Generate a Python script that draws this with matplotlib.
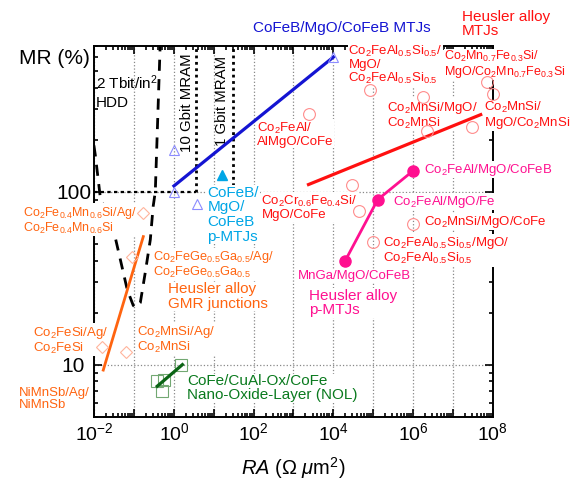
import numpy as np
import matplotlib
matplotlib.use('Agg')
import matplotlib.pyplot as plt
from matplotlib.ticker import LogLocator, NullFormatter, FuncFormatter

plt.rcParams['font.family'] = ['Liberation Sans', 'DejaVu Sans']
plt.rcParams['mathtext.fontset'] = 'custom'
plt.rcParams['mathtext.rm'] = 'Liberation Sans'
plt.rcParams['mathtext.it'] = 'Liberation Sans:italic'
plt.rcParams['mathtext.bf'] = 'Liberation Sans:bold'

#%%---- data (RA in Ohm um^2, MR in %) ----------------------------------------
hdd_ra = [0.0098, 0.0106, 0.0141, 0.0337, 0.0673, 0.095, 0.107, 0.143, 0.19, 0.255, 0.30, 0.34, 0.45]
hdd_mr = [185, 163, 93.6, 54.2, 27.1, 22.0, 21.4, 22.8, 34, 52.8, 81.9, 100, 700]

mram10_ra = 3.6
mram1_ra = 30.

cofeb_line_ra = [1., 1e4]
cofeb_line_mr = [108, 600]
cofeb_ra = [1., 1., 3.8, 1e4]
cofeb_mr = [175, 100, 85, 600]

pmtj_ra = [16.4]
pmtj_mr = [125]

heusler_line_ra = [2380, 5e7]
heusler_line_mr = [110, 279]
heusler_ra = [2400, 8.1e4, 1.74e6, 7e7, 1e8, 2.2e6, 3.1e7, 3e4, 4.3e4, 1e5, 9.8e5]
heusler_mr = [282, 389, 354, 432, 368, 225, 238, 110, 77, 51, 65]

hpmtj_ra = [2e4, 1.3e5, 1e6]
hpmtj_mr = [40, 90, 132]

gmr_line_ra = [0.0168, 0.17]
gmr_line_mr = [9.3, 55]
gmr_ra = [0.17, 0.09, 0.016, 0.063]
gmr_mr = [75.6, 42, 12.6, 11.9]

nol_line_ra = [0.38, 1.63]
nol_line_mr = [7.5, 10]
nol_ra = [1.54, 0.38, 0.57, 0.51]
nol_mr = [10, 8.0, 8.2, 7.0]

#%%---- colours ---------------------------------------------------------------
blue = '#1414d2'
cyan = '#00a6e6'
red = '#ff1010'
pink = '#ff1090'
orange = '#ff6410'
green = '#0a7a1e'

fig = plt.figure(figsize=(5.7, 4.82), dpi=100)
ax = fig.add_axes([0.1654, 0.1355, 0.699, 0.770])
ax.set_xscale('log')
ax.set_yscale('log')
ax.set_xlim(1e-2, 1e8)
ax.set_ylim(5, 700)

# grid
ax.grid(True, which='major', ls=':', color='#888888', lw=0.9)

# HDD and MRAM limits
ax.plot(hdd_ra, hdd_mr, color='k', lw=2, ls=(0, (4, 3)))
ax.plot([mram10_ra, mram10_ra], [100, 700], color='k', lw=2, ls=(0, (1, 1.3)))
ax.plot([mram1_ra, mram1_ra], [100, 700], color='k', lw=2, ls=(0, (1, 1.3)))
ax.plot([1e-2, mram10_ra], [100, 100], color='k', lw=1.6, ls=(0, (1.5, 1.5)))

# CoFeB MTJs
ax.plot(cofeb_line_ra, cofeb_line_mr, color=blue, lw=2.3, zorder=4)
ax.plot(cofeb_ra, cofeb_mr, '^', ms=7, mfc='none', mec='#8c8cff', mew=0.8, zorder=4)
ax.plot(pmtj_ra, pmtj_mr, '^', ms=7.5, color=cyan, zorder=4)

# Heusler MTJs
ax.plot(heusler_line_ra, heusler_line_mr, color=red, lw=2.3, zorder=4)
ax.plot(heusler_ra, heusler_mr, 'o', ms=8.5, mfc='none', mec='#ff8c8c', mew=0.8, zorder=4, clip_on=False)
ax.plot(hpmtj_ra, hpmtj_mr, 'o-', ms=8, color=pink, lw=2, zorder=4)

# GMR
ax.plot(gmr_line_ra, gmr_line_mr, color=orange, lw=2, zorder=4)
ax.plot(gmr_ra, gmr_mr, 'D', ms=6, mfc='none', mec='#ffb49c', mew=0.8, zorder=4)

# NOL
ax.plot(nol_ra, nol_mr, 's', ms=9, mfc='none', mec='#72a872', mew=0.8, zorder=4)
ax.plot(nol_line_ra, nol_line_mr, color='#0a6414', lw=2.3, zorder=4)

#%%---- labels ----------------------------------------------------------------
fs = 9.5
box = dict(fc='white', ec='none', pad=0.4)
kw = dict(ha='left', va='top', clip_on=False, linespacing=1.0, bbox=box)
ax.text(98, 887, 'CoFeB/MgO/CoFeB MTJs', color=blue, fontsize=11, ha='left', va='center', clip_on=False)
ax.text(1.66e7, 935, 'Heusler alloy\nMTJs', color=red, fontsize=11, ha='left', va='center',
        clip_on=False, linespacing=1.0)
ax.text(0.0112, 480, '2 Tbit/in$^2$\nHDD', color='k', fontsize=11, ha='left', va='top', linespacing=1.3)
ax.text(2.17, 327, '10 Gbit MRAM', color='k', fontsize=10.8, rotation=90, ha='center', va='center')
ax.text(16.4, 336, '1 Gbit MRAM', color='k', fontsize=10.8, rotation=90, ha='center', va='center')
ax.text(6.9, 108, 'CoFeB/\nMgO/\nCoFeB\np-MTJs', color=cyan, fontsize=11, ha='left', va='top',
        linespacing=1.05, bbox=box)

ax.text(124, 258, 'Co$_2$FeAl/\nAlMgO/CoFe', color=red, fontsize=fs, **kw)
ax.text(2.4e4, 715, 'Co$_2$FeAl$_{0.5}$Si$_{0.5}$/\nMgO/\nCo$_2$FeAl$_{0.5}$Si$_{0.5}$', color=red, fontsize=fs, **kw)
ax.text(6.0e6, 670, 'Co$_2$Mn$_{0.7}$Fe$_{0.3}$Si/\nMgO/Co$_2$Mn$_{0.7}$Fe$_{0.3}$Si', color=red, fontsize=9, **kw)
ax.text(2.2e5, 340, 'Co$_2$MnSi/MgO/\nCo$_2$MnSi', color=red, fontsize=fs, **kw)
ax.text(5.9e7, 340, 'Co$_2$MnSi/\nMgO/Co$_2$MnSi', color=red, fontsize=fs, **kw)
ax.text(157, 97, 'Co$_2$Cr$_{0.6}$Fe$_{0.4}$Si/\nMgO/CoFe', color=red, fontsize=fs, **kw)
ax.text(1.86e6, 134, 'Co$_2$FeAl/MgO/CoFeB', color=pink, fontsize=fs, ha='left', va='center', bbox=box)
ax.text(3.2e5, 87.5, 'Co$_2$FeAl/MgO/Fe', color=pink, fontsize=fs, ha='left', va='center', bbox=box)
ax.text(1.86e6, 67, 'Co$_2$MnSi/MgO/CoFe', color=red, fontsize=fs, ha='left', va='center', bbox=box)
ax.text(1.8e5, 56, 'Co$_2$FeAl$_{0.5}$Si$_{0.5}$/MgO/\nCo$_2$FeAl$_{0.5}$Si$_{0.5}$', color=red, fontsize=fs, **kw)
ax.text(1.26e3, 32.7, 'MnGa/MgO/CoFeB', color=pink, fontsize=fs, ha='left', va='center', bbox=box)
ax.text(2.5e3, 27.5, 'Heusler alloy\np-MTJs', color=pink, fontsize=11, ha='left', va='top',
        linespacing=1.05, bbox=box)

ax.text(1.66e-4, 84, 'Co$_2$Fe$_{0.4}$Mn$_{0.6}$Si/Ag/\nCo$_2$Fe$_{0.4}$Mn$_{0.6}$Si', color=orange, fontsize=9, **kw)
ax.text(0.30, 46.5, 'Co$_2$FeGe$_{0.5}$Ga$_{0.5}$/Ag/\nCo$_2$FeGe$_{0.5}$Ga$_{0.5}$', color=orange, fontsize=9.2, **kw)
ax.text(0.72, 30, 'Heusler alloy\nGMR junctions', color=orange, fontsize=11, ha='left', va='top',
        linespacing=1.05, bbox=box)
ax.text(2.9e-4, 17, 'Co$_2$FeSi/Ag/\nCo$_2$FeSi', color=orange, fontsize=fs, **kw)
ax.text(0.12, 17.2, 'Co$_2$MnSi/Ag/\nCo$_2$MnSi', color=orange, fontsize=fs, **kw)
ax.text(1.3e-4, 7.45, 'NiMnSb/Ag/\nNiMnSb', color=orange, fontsize=fs, **kw)
ax.text(2.17, 8.8, 'CoFe/CuAl-Ox/CoFe\nNano-Oxide-Layer (NOL)', color=green, fontsize=11,
        ha='left', va='top', linespacing=1.0, bbox=box)

#%%---- axes ------------------------------------------------------------------
ax.xaxis.set_major_locator(LogLocator(base=10, numticks=20))
ax.xaxis.set_minor_locator(LogLocator(base=10, subs=np.arange(2, 10), numticks=20))
ax.xaxis.set_major_formatter(FuncFormatter(
    lambda v, p: r'10$^{%d}$' % round(np.log10(v)) if round(np.log10(v)) % 2 == 0 else ''))
ax.xaxis.set_minor_formatter(NullFormatter())
ax.set_yticks([10, 100])
ax.set_yticklabels(['10', '100'])
ax.yaxis.set_minor_locator(LogLocator(base=10, subs=np.arange(2, 10), numticks=20))
ax.yaxis.set_minor_formatter(NullFormatter())

ax.tick_params(which='both', direction='in', top=True, right=True, width=1.2)
ax.tick_params(which='major', length=6)
ax.tick_params(which='minor', length=3)
ax.tick_params(axis='x', labelsize=14, pad=4)
ax.tick_params(axis='y', labelsize=15, pad=15)
for lab in ax.get_yticklabels():
    lab.set_ha('center')
for s in ax.spines.values():
    s.set_linewidth(1.4)

ax.set_xlabel('$RA$ ($\\Omega$ $\\mu$m$^2$)', fontsize=14.5, labelpad=8)
ax.text(-0.012, 0.965, 'MR (%)', transform=ax.transAxes, fontsize=15, ha='right', va='center')

fig.savefig('out.png', dpi=100)
